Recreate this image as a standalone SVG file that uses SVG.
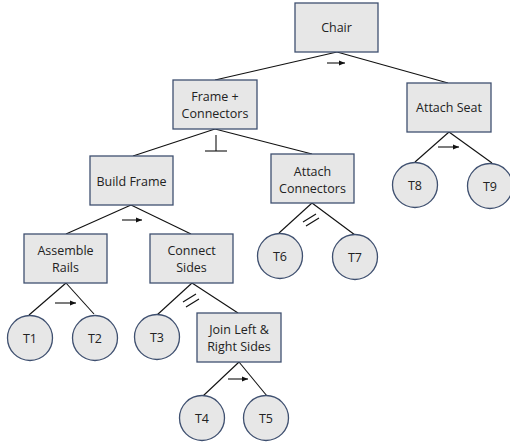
<svg xmlns="http://www.w3.org/2000/svg" width="510" height="445" viewBox="0 0 510 445">
<style>
.box{fill:#e7e7e7;stroke:#3f5070;stroke-width:1.3}
.circ{fill:#e7e7e7;stroke:#3f5070;stroke-width:1.3}
.lbl{font-family:"Open Sans","Noto Sans",sans-serif;font-size:12.5px;fill:#222;text-anchor:middle}
.edge{stroke:#111;stroke-width:1.1;fill:none}
.sym{stroke:#111;stroke-width:1.1;fill:none}
</style>
<defs>
<marker id="ah" viewBox="0 0 6 6" refX="6" refY="3" markerWidth="6" markerHeight="6" markerUnits="userSpaceOnUse" orient="auto">
<path d="M0,0.5 L6,3 L0,5.5 Z" fill="#111"/>
</marker>
</defs>
<rect width="510" height="445" fill="#ffffff"/>
<g id="connectors">
<line class="edge" x1="337" y1="52" x2="215" y2="80"/>
<line class="edge" x1="337" y1="52" x2="448" y2="83"/>
<line class="edge" x1="215" y1="129" x2="133" y2="156"/>
<line class="edge" x1="215" y1="129" x2="312" y2="154"/>
<line class="edge" x1="131" y1="205" x2="66" y2="234"/>
<line class="edge" x1="131" y1="205" x2="191" y2="234"/>
<line class="edge" x1="66" y1="283" x2="29" y2="315"/>
<line class="edge" x1="66" y1="283" x2="94" y2="314"/>
<line class="edge" x1="192" y1="283" x2="157" y2="315"/>
<line class="edge" x1="192" y1="283" x2="238" y2="313"/>
<line class="edge" x1="239" y1="362" x2="203" y2="396"/>
<line class="edge" x1="239" y1="362" x2="267" y2="396"/>
<line class="edge" x1="312" y1="203" x2="279" y2="233"/>
<line class="edge" x1="312" y1="203" x2="355" y2="235"/>
<line class="edge" x1="449" y1="132" x2="415" y2="162"/>
<line class="edge" x1="449" y1="132" x2="492" y2="163"/>
<line class="sym" x1="327" y1="63" x2="345" y2="63" marker-end="url(#ah)"/>
<line class="sym" x1="122" y1="220" x2="142" y2="220" marker-end="url(#ah)"/>
<line class="sym" x1="55" y1="303" x2="76" y2="303" marker-end="url(#ah)"/>
<line class="sym" x1="228" y1="379" x2="248" y2="379" marker-end="url(#ah)"/>
<line class="sym" x1="438" y1="147" x2="459" y2="147" marker-end="url(#ah)"/>
<line class="sym" x1="216" y1="135" x2="216" y2="151"/>
<line class="sym" x1="205" y1="151" x2="227" y2="151"/>
<line class="sym" x1="183" y1="302" x2="196" y2="294"/>
<line class="sym" x1="186" y1="307" x2="199" y2="299"/>
<line class="sym" x1="303" y1="222" x2="316" y2="214"/>
<line class="sym" x1="306" y1="226" x2="319" y2="218"/>
</g>
<g id="chair"><rect class="box" x="295" y="3" width="83" height="49"/><text class="lbl" x="336.5" y="32">Chair</text></g>
<g id="frame-connectors"><rect class="box" x="173" y="80" width="84" height="49"/><text class="lbl" x="215" y="101">Frame +</text><text class="lbl" x="215" y="118">Connectors</text></g>
<g id="attach-seat"><rect class="box" x="407" y="83" width="84" height="49"/><text class="lbl" x="449" y="112">Attach Seat</text></g>
<g id="build-frame"><rect class="box" x="90" y="156" width="83" height="49"/><text class="lbl" x="131.5" y="186">Build Frame</text></g>
<g id="attach-connectors"><rect class="box" x="271" y="154" width="83" height="49"/><text class="lbl" x="312.5" y="176">Attach</text><text class="lbl" x="312.5" y="193">Connectors</text></g>
<g id="assemble-rails"><rect class="box" x="24" y="234" width="83" height="49"/><text class="lbl" x="65.5" y="255">Assemble</text><text class="lbl" x="65.5" y="272">Rails</text></g>
<g id="connect-sides"><rect class="box" x="150" y="234" width="83" height="49"/><text class="lbl" x="191.5" y="255">Connect</text><text class="lbl" x="191.5" y="272">Sides</text></g>
<g id="join-sides"><rect class="box" x="197" y="313" width="84" height="49"/><text class="lbl" x="239" y="334">Join Left &amp;</text><text class="lbl" x="239" y="351">Right Sides</text></g>
<g id="t1"><circle class="circ" cx="30" cy="338" r="22.5"/><text class="lbl" x="30" y="342.5">T1</text></g>
<g id="t2"><circle class="circ" cx="95" cy="338" r="22.5"/><text class="lbl" x="95" y="342.5">T2</text></g>
<g id="t3"><circle class="circ" cx="157" cy="337" r="22.5"/><text class="lbl" x="157" y="341.5">T3</text></g>
<g id="t4"><circle class="circ" cx="202" cy="418" r="22.5"/><text class="lbl" x="202" y="422.5">T4</text></g>
<g id="t5"><circle class="circ" cx="266" cy="418" r="22.5"/><text class="lbl" x="266" y="422.5">T5</text></g>
<g id="t6"><circle class="circ" cx="280" cy="256" r="22.5"/><text class="lbl" x="280" y="260.5">T6</text></g>
<g id="t7"><circle class="circ" cx="355" cy="257" r="22.5"/><text class="lbl" x="355" y="261.5">T7</text></g>
<g id="t8"><circle class="circ" cx="415" cy="185" r="22.5"/><text class="lbl" x="415" y="189.5">T8</text></g>
<g id="t9"><circle class="circ" cx="490" cy="186" r="22.5"/><text class="lbl" x="490" y="190.5">T9</text></g>
</svg>
